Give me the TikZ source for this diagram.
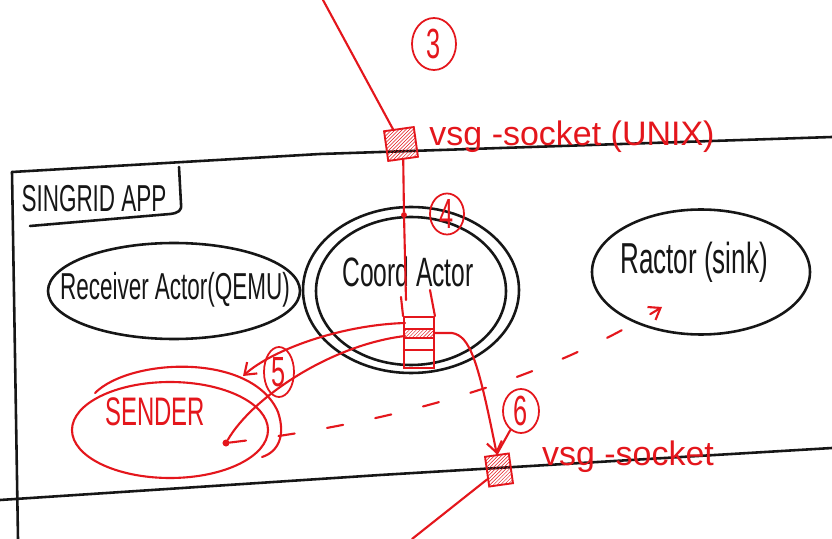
\documentclass[tikz,border=0pt]{standalone}
\usepackage{fontspec}
\setmainfont{Liberation Sans}
\newfontfamily\handnarrow[FakeStretch=0.6]{Liberation Sans}
\newfontfamily\handwide{Liberation Sans}
\usetikzlibrary{shapes.geometric,patterns,arrows.meta}
\definecolor{pen}{RGB}{228,22,28}
\definecolor{ink}{RGB}{22,22,22}
\def\px{0.03cm}

\begin{document}
\begin{tikzpicture}[x=0.03cm,y=-0.03cm,
  inkline/.style={draw=ink,line width=2.2pt,line cap=round,line join=round},
  redline/.style={draw=pen,line width=1.8pt,line cap=round,line join=round},
  barb/.style={-{Straight Barb[length=9pt,width=13pt]}},
  actor/.style={ellipse,draw=ink,line width=2.2pt,inner sep=0pt},
  redactor/.style={ellipse,draw=pen,line width=1.8pt,inner sep=0pt},
  inklabel/.style={text=ink,inner sep=0pt},
  redlabel/.style={text=pen,inner sep=0pt},
  num/.style={ellipse,draw=pen,line width=1.5pt,text=pen,inner sep=0pt,
    font=\handnarrow\fontsize{36}{38}\selectfont},
  sock/.style={rectangle,draw=pen,line width=1.6pt,inner sep=0pt,
    pattern=north east lines,pattern color=pen},
  dot/.style={circle,fill=pen,inner sep=0pt,minimum size=5pt}
]
\fill[white] (0,0) rectangle (832,539);
\useasboundingbox (0,0) rectangle (832,539);

% application frame
\draw[inkline] (12,172) -- (320,154) -- (832,137);
\draw[inkline] (0,500) -- (380,475) -- (832,448);
\draw[inkline] (12,172) -- (18,539);

% title tab
\node[inklabel,font=\handnarrow\fontsize{32}{34}\selectfont] (title) at (94,199) {SINGRID APP};
\draw[inkline] (179,167) -- (181,204) .. controls (182,211) and (178,213) .. (170,214) -- (30,226);

% actors
\node[actor,minimum width=252*\px,minimum height=96*\px] (recv) at (174,291) {};
\node[inklabel,font=\handnarrow\fontsize{32}{34}\selectfont] (recvText) at (175,290) {Receiver Actor(QEMU)};

\node[actor,minimum width=216*\px,minimum height=166*\px] (coordOuter) at (411,290) {};
\node[actor,minimum width=190*\px,minimum height=148*\px] (coordInner) at (411,291) {};
\node[inklabel,font=\handnarrow\fontsize{35}{37}\selectfont] (coordText) at (408,272) {Coord Actor};

\node[actor,minimum width=218*\px,minimum height=125*\px] (sink) at (701,272) {};
\node[inklabel,font=\handnarrow\fontsize{37}{39}\selectfont] (sinkText) at (694,262) {Ractor (sink)};

% sender
\node[redactor,minimum width=196*\px,minimum height=96*\px] (sender) at (170,430) {};
\draw[redline] (95,393) .. controls (130,358) and (252,352) .. (278,412)
  .. controls (286,436) and (278,452) .. (262,457);
\node[redlabel,font=\handnarrow\fontsize{34}{36}\selectfont] (senderText) at (155,412) {SENDER};

% queue inside the coordinator
\node[rectangle,draw=pen,line width=1.6pt,inner sep=0pt,
  minimum width=30*\px,minimum height=51*\px] (queue) at (419,342.5) {};
\node[rectangle,draw=pen,line width=1.2pt,inner sep=0pt,pattern=north east lines,pattern color=pen,
  minimum width=30*\px,minimum height=9*\px] (qband) at (419,333.5) {};
\draw[redline] (404,350) -- (434,350);
\draw[redline] (queue.north west) -- (401,297);
\draw[redline] (queue.north east) -- (430,290);

% sockets
\node[sock,minimum width=30*\px,minimum height=30*\px,rotate=8] (sockA) at (401,144) {};
\node[redlabel,font=\handwide\fontsize{29}{31}\selectfont] (sockAText) at (572,137) {vsg -socket (UNIX)};
\node[sock,minimum width=24*\px,minimum height=30*\px,rotate=8] (sockB) at (499,470) {};
\node[redlabel,font=\handwide\fontsize{29}{31}\selectfont] (sockBText) at (628,457) {vsg -socket};

% step numbers
\node[num,minimum width=44*\px,minimum height=52*\px] (n3) at (434,44) {3};
\node[num,minimum width=34*\px,minimum height=40*\px] (n4) at (447,214) {4};
\node[num,minimum width=30*\px,minimum height=50*\px] (n5) at (279,372) {5};
\node[num,minimum width=36*\px,minimum height=44*\px] (n6) at (521,411) {6};

% connection points
\coordinate (topEnd) at (323,0);
\node[dot] (entry) at (404,215) {};
\coordinate (qin) at (406,300);
\coordinate (qa) at (405,323);
\coordinate (qb) at (405,336);
\coordinate (qc) at (434,333);
\coordinate (sendIn) at (243,376);
\node[dot,minimum size=6pt] (sendDot) at (226,443) {};
\coordinate (sinkHit) at (662,307);
\coordinate (lowEnd) at (412,539);

% message flow
\draw[redline] (topEnd) -- (sockA);
\draw[redline] (sockA.south) -- (entry) -- (qin);
\draw[redline,barb] (qa) .. controls (340,325) and (272,350) .. (sendIn);
\draw[redline] (qb) .. controls (330,345) and (252,398) .. (sendDot);
\draw[redline,barb,dash pattern=on 14pt off 28pt] (sendDot) .. controls (420,420) and (560,370) .. (sinkHit);
\draw[redline,barb] (qc) -- (452,333) .. controls (470,336) and (478,360) .. (sockB.north);
\draw[redline] (n6) -- (sockB.north);
\draw[redline] (sockB) -- (lowEnd);
\end{tikzpicture}
\end{document}
